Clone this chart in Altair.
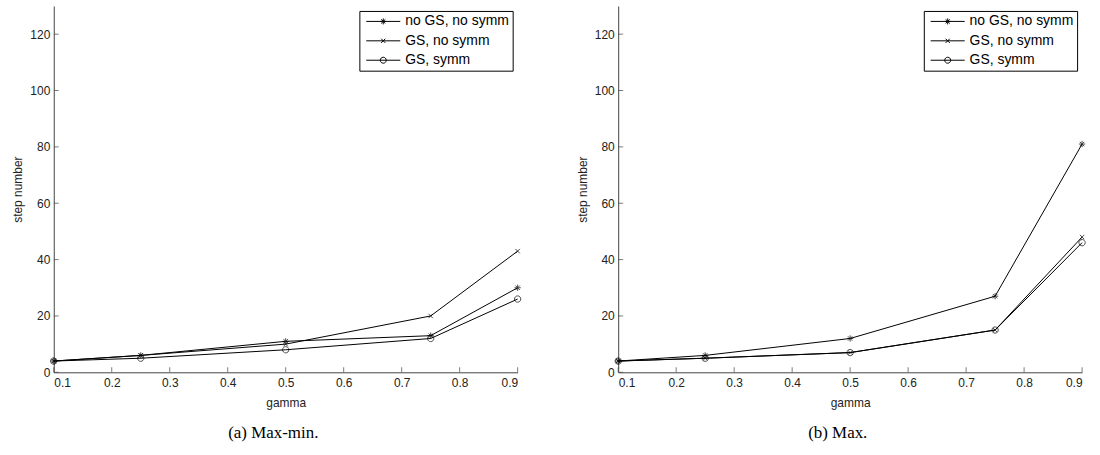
import altair as alt
import pandas as pd

gamma = [0.1, 0.25, 0.5, 0.75, 0.9]
series_names = ["no GS, no symm", "GS, no symm", "GS, symm"]

a_no_gs_no_symm = [4, 6, 11, 13, 30]
a_gs_no_symm = [4, 6, 10, 20, 43]
a_gs_symm = [4, 5, 8, 12, 26]

b_no_gs_no_symm = [4, 6, 12, 27, 81]
b_gs_no_symm = [4, 5, 7, 15, 48]
b_gs_symm = [4, 5, 7, 15, 46]

x_ticks = [0.1, 0.2, 0.3, 0.4, 0.5, 0.6, 0.7, 0.8, 0.9]
y_ticks = [0, 20, 40, 60, 80, 100, 120]
captions = ["(a) Max-min.", "(b) Max."]

# marker glyphs (unit square paths)
STAR = "M-1,0H1M0,-1V1M-0.7,-0.7L0.7,0.7M-0.7,0.7L0.7,-0.7"
CROSS = "M-0.7,-0.7L0.7,0.7M-0.7,0.7L0.7,-0.7"
CIRC = "M1,0A1,1,0,1,1,-1,0A1,1,0,1,1,1,0"
marker_paths = [STAR, CROSS, CIRC]
legend_paths = ["M-5.7,0H5.7" + p for p in marker_paths]

W, H = 466, 368


def panel(series_values, caption):
    rows = []
    for name, vals in zip(series_names, series_values):
        for g, v in zip(gamma, vals):
            rows.append({"gamma": g, "steps": v, "series": name})
    df = pd.DataFrame(rows)

    X = alt.X("gamma:Q",
              scale=alt.Scale(domain=[0.1, 0.9], nice=False, zero=False),
              axis=alt.Axis(values=x_ticks, format=".1f", title="gamma",
                            labelPadding=5, titlePadding=9))
    Y = alt.Y("steps:Q",
              scale=alt.Scale(domain=[0, 130], nice=False),
              axis=alt.Axis(values=y_ticks, title="step number",
                            labelPadding=4, titlePadding=5))

    lines = alt.Chart(df).mark_line(color="black", strokeWidth=1).encode(
        x=X, y=Y, detail="series:N")

    points = alt.Chart(df).mark_point(color="black", filled=False, strokeWidth=1, size=40).encode(
        x=X, y=Y,
        shape=alt.Shape("series:N",
                        scale=alt.Scale(domain=series_names, range=marker_paths),
                        legend=None))

    legend_layer = alt.Chart(df).mark_point(color="black", filled=False, strokeWidth=1,
                                            size=36, opacity=0).encode(
        x=X, y=Y,
        shape=alt.Shape("series:N",
                        scale=alt.Scale(domain=series_names, range=legend_paths),
                        legend=alt.Legend(title=None, orient="top-right", offset=5,
                                          strokeColor="black", fillColor="white",
                                          padding=3.5, cornerRadius=0,
                                          labelFont="Liberation Sans", labelFontSize=14,
                                          labelColor="black", symbolSize=36,
                                          symbolStrokeWidth=1, symbolStrokeColor="black",
                                          symbolFillColor="transparent",
                                          symbolOffset=13.5, labelOffset=15,
                                          rowPadding=5.5)))

    xt = alt.Chart(pd.DataFrame({"gamma": x_ticks})).mark_tick(
        orient="vertical", color="#444", thickness=1, size=5).encode(
        x=X, y=alt.value(H - 2.5))
    yt = alt.Chart(pd.DataFrame({"steps": y_ticks})).mark_tick(
        orient="horizontal", color="#444", thickness=1, size=5).encode(
        y=Y, x=alt.value(2.5))

    return alt.layer(xt, yt, lines, points, legend_layer).resolve_scale(
        shape="independent"
    ).properties(
        width=W, height=H,
        title=alt.TitleParams(caption, orient="bottom", anchor="middle", frame="bounds",
                              font="Liberation Serif", fontSize=17, fontWeight="normal",
                              color="black", offset=17)
    )


left = panel([a_no_gs_no_symm, a_gs_no_symm, a_gs_symm], captions[0])
right = panel([b_no_gs_no_symm, b_gs_no_symm, b_gs_symm], captions[1])

chart = alt.hconcat(left, right, spacing=40).properties(
    padding={"left": 11, "top": 5, "right": 0, "bottom": 0},
    background="white"
).configure_view(stroke=None).configure_axis(
    grid=False, ticks=False, domainColor="#444", domainWidth=1,
    labelFont="Liberation Sans", labelFontSize=12, labelColor="#222",
    titleFont="Liberation Sans", titleFontSize=12, titleFontWeight="normal",
    titleColor="#222"
)

chart.save("out.html", embed_options={"renderer": "svg", "actions": False})
